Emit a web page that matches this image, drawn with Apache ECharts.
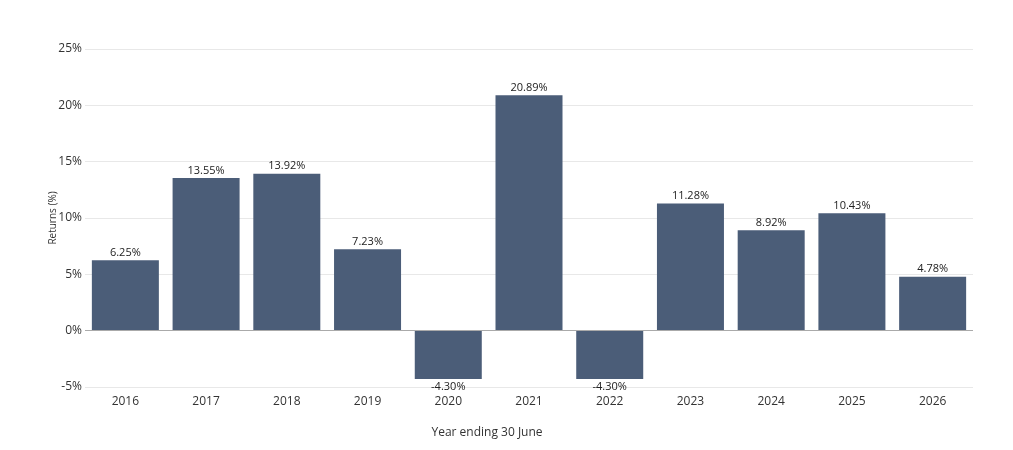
<!DOCTYPE html>
<html>
<head>
<meta charset="utf-8">
<script src="https://cdn.jsdelivr.net/npm/echarts@6/dist/echarts.min.js"></script>
<style>
  html, body { margin: 0; padding: 0; background: #fff; }
  #myChart { width: 1013px; height: 450px; }
</style>
</head>
<body>
<div id="myChart"></div>
<script>
var years = ['2016', '2017', '2018', '2019', '2020', '2021', '2022', '2023', '2024', '2025', '2026'];
var returns = [6.25, 13.55, 13.92, 7.23, -4.30, 20.89, -4.30, 11.28, 8.92, 10.43, 4.78];
var yTicks = { min: -5, max: 25, interval: 5 };

var myChart = echarts.init(document.getElementById('myChart'));
var font = '"Open Sans", sans-serif';

myChart.setOption({
    animation: false,
    textStyle: { fontFamily: font },
    grid: { left: 85, right: 40, top: 49, bottom: 63 },
    xAxis: {
        type: 'category',
        data: years,
        name: 'Year ending 30 June',
        nameLocation: 'middle',
        nameGap: 40,
        // title sits a bit left of the plot centre in the original
        nameTextStyle: { fontSize: 12, color: '#333', fontFamily: font, padding: [0, 84, 0, 0] },
        axisLine: { show: false, onZero: false },
        axisTick: { show: false },
        axisLabel: { fontSize: 12, color: '#333', margin: 9, fontFamily: font }
    },
    yAxis: {
        type: 'value',
        min: yTicks.min,
        max: yTicks.max,
        interval: yTicks.interval,
        name: 'Returns (%)',
        nameLocation: 'middle',
        nameGap: 27,
        nameMoveOverlap: false,
        nameTextStyle: { fontSize: 10, color: '#333', fontFamily: font },
        axisLine: { show: false },
        axisTick: { show: false },
        axisLabel: { formatter: '{value}%', fontSize: 12, color: '#333', margin: 3, fontFamily: font },
        splitLine: { lineStyle: { color: '#e8e8e8', width: 1 } }
    },
    series: [{
        type: 'bar',
        barCategoryGap: '17%',
        itemStyle: { color: '#4b5d78' },
        data: returns.map(function (v) {
            return {
                value: v,
                label: { position: v < 0 ? 'bottom' : 'top', distance: 2 }
            };
        }),
        label: {
            show: true,
            fontSize: 11,
            color: '#222',
            fontFamily: font,
            formatter: function (p) { return p.value.toFixed(2) + '%'; }
        },
        markLine: {
            silent: true,
            symbol: 'none',
            label: { show: false },
            lineStyle: { color: '#aaaaaa', type: 'solid', width: 1 },
            data: [{ yAxis: 0 }]
        }
    }]
});

window.onresize = function () {
    myChart.resize();
};
</script>
</body>
</html>
